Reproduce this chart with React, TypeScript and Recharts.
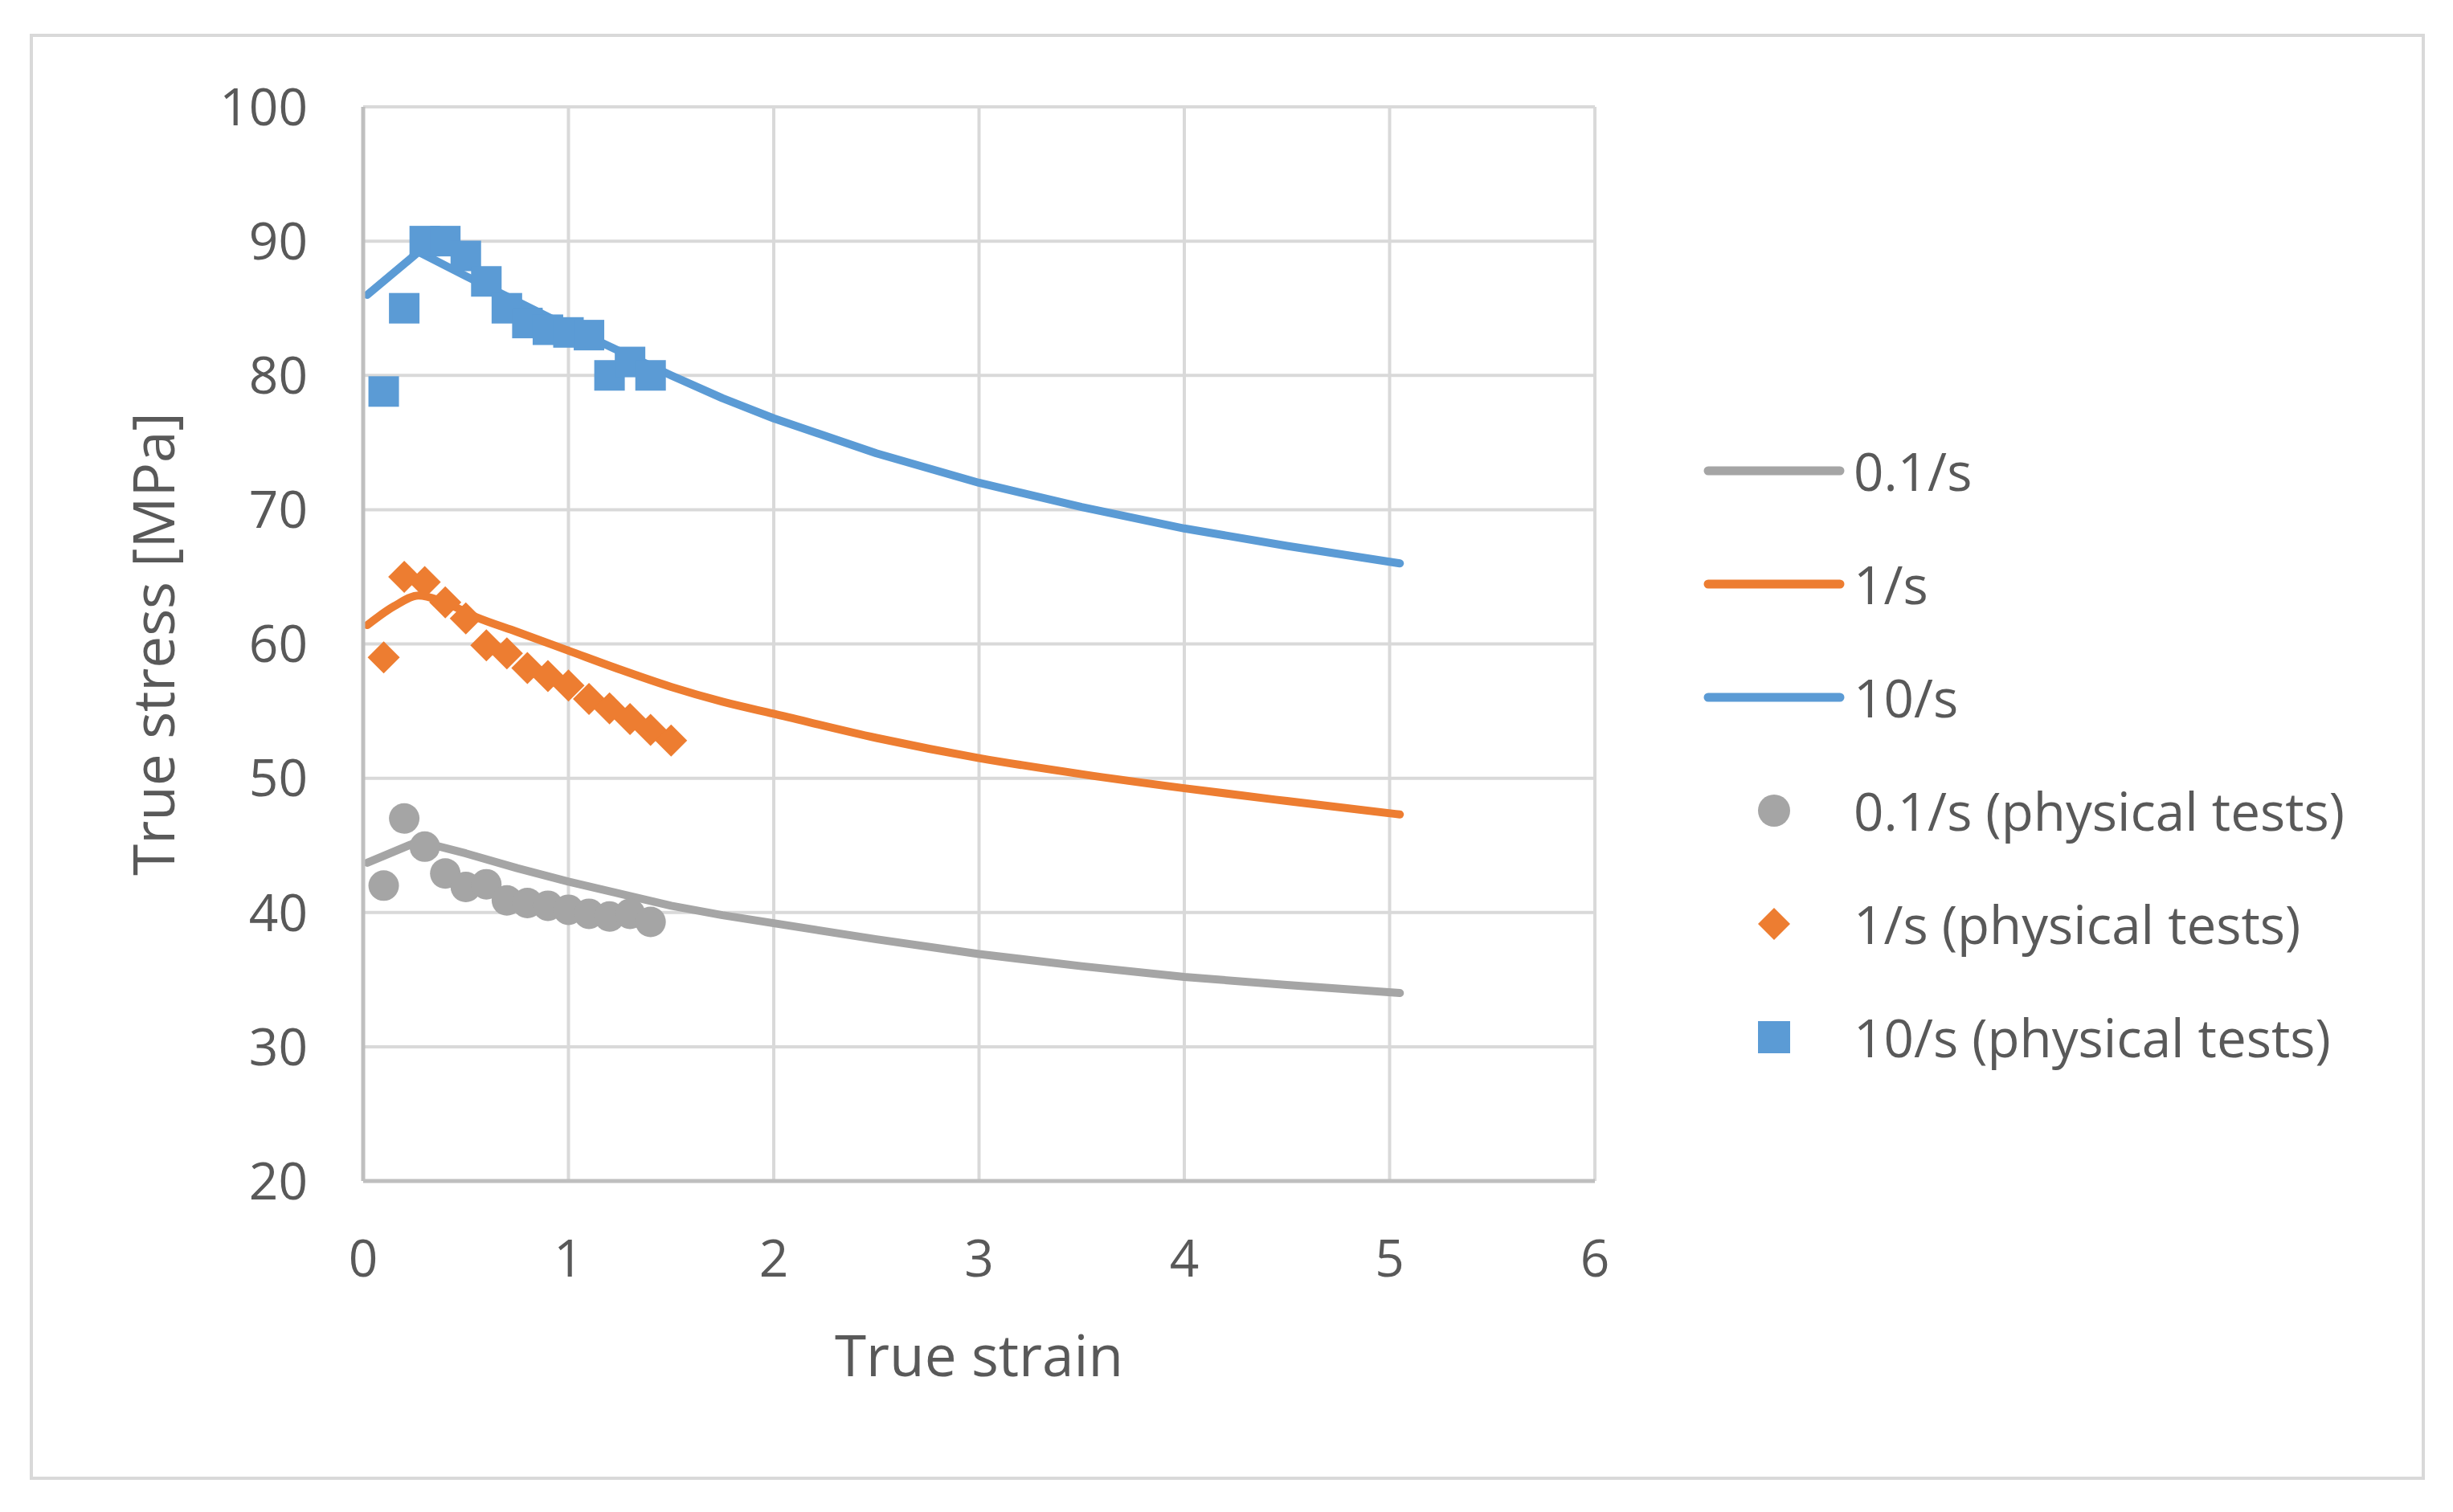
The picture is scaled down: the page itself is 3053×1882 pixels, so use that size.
import React from 'react';
import { ComposedChart, Line, Scatter, XAxis, YAxis, CartesianGrid } from 'recharts';

// ---- data ----
const xTicks = [0, 1, 2, 3, 4, 5, 6];
const yTicks = [20, 30, 40, 50, 60, 70, 80, 90, 100];

const modelStrain01 = [0.02, 0.27, 0.5, 0.75, 1.0, 1.25, 1.5, 1.75, 2.0, 2.5, 3.0, 3.5, 4.0, 4.5, 5.05];
const model01 = [43.7, 45.3, 44.4, 43.3, 42.3, 41.4, 40.5, 39.8, 39.2, 38.0, 36.9, 36.0, 35.2, 34.6, 34.0];

const modelStrain1 = [0.02, 0.15, 0.27, 0.38, 0.55, 0.75, 1.0, 1.25, 1.5, 1.75, 2.0, 2.5, 3.0, 3.5, 4.0, 4.5, 5.05];
const model1 = [61.4, 62.8, 63.6, 63.2, 62.0, 60.9, 59.5, 58.1, 56.8, 55.7, 54.8, 53.0, 51.5, 50.3, 49.25, 48.3, 47.3];

const modelStrain10 = [0.02, 0.27, 0.5, 0.75, 1.0, 1.25, 1.5, 1.75, 2.0, 2.5, 3.0, 3.5, 4.0, 4.5, 5.05];
const model10 = [86.0, 89.2, 87.4, 85.5, 83.6, 81.8, 80.0, 78.3, 76.8, 74.2, 72.0, 70.2, 68.6, 67.3, 66.0];

const testStrain01 = [0.1, 0.2, 0.3, 0.4, 0.5, 0.6, 0.7, 0.8, 0.9, 1.0, 1.1, 1.2, 1.3, 1.4];
const test01 = [42.0, 47.0, 44.9, 42.9, 41.9, 42.1, 40.9, 40.7, 40.5, 40.2, 39.9, 39.7, 39.9, 39.3];

const testStrain1 = [0.1, 0.2, 0.3, 0.4, 0.5, 0.6, 0.7, 0.8, 0.9, 1.0, 1.1, 1.2, 1.3, 1.4, 1.5];
const test1 = [59.0, 65.0, 64.6, 63.1, 61.9, 59.9, 59.3, 58.2, 57.6, 56.9, 55.9, 55.2, 54.4, 53.6, 52.8];

const testStrain10 = [0.1, 0.2, 0.3, 0.4, 0.5, 0.6, 0.7, 0.8, 0.9, 1.0, 1.1, 1.2, 1.3, 1.4];
const test10 = [78.8, 85.0, 90.0, 90.0, 88.9, 87.0, 85.0, 83.9, 83.4, 83.2, 83.0, 80.0, 81.0, 80.0];

const legendLabels = ['0.1/s', '1/s', '10/s', '0.1/s (physical tests)', '1/s (physical tests)', '10/s (physical tests)'];

// ---- styles ----
const GRAY = '#A5A5A5';
const ORANGE = '#ED7D31';
const BLUE = '#5B9BD5';
const TEXT = '#595959';
const FONT = '"Open Sans", Lato, sans-serif';
const FS = 64;
const LEGEND_FS = 65.5;
const TITLE_FS = 71;
const LINE_W = 10;

const zip = (xs: number[], ys: number[]) => xs.map((x, i) => ({ x, y: ys[i] }));

const CircleShape = (p: any) => <circle cx={p.cx} cy={p.cy} r={19} fill={GRAY} />;
const DiamondShape = (p: any) => (
  <polygon
    points={`${p.cx},${p.cy - 20} ${p.cx + 20},${p.cy} ${p.cx},${p.cy + 20} ${p.cx - 20},${p.cy}`}
    fill={ORANGE}
  />
);
const SquareShape = (p: any) => <rect x={p.cx - 19} y={p.cy - 19} width={38} height={38} fill={BLUE} />;

const XTick = (p: any) => (
  <text x={p.x} y={p.y} dy="0.714em" textAnchor="middle" fill={TEXT} fontFamily={FONT} fontSize={FS}>
    {p.payload.value}
  </text>
);
const YTick = (p: any) => (
  <text x={p.x} y={p.y} dy="0.357em" textAnchor="end" fill={TEXT} fontFamily={FONT} fontSize={FS}>
    {p.payload.value}
  </text>
);

const legendColors = [GRAY, ORANGE, BLUE, GRAY, ORANGE, BLUE];

const ChartLegend = () => (
  <div
    style={{
      position: 'absolute',
      left: 2095,
      top: 515.5,
      fontFamily: FONT,
      fontSize: LEGEND_FS,
      color: TEXT,
    }}
  >
    {legendLabels.map((label, i) => (
      <div key={label} style={{ height: 141, display: 'flex', alignItems: 'center' }}>
        <svg width={212} height={60} style={{ flex: 'none' }}>
          {i < 3 && (
            <line x1={31} y1={30} x2={195} y2={30} stroke={legendColors[i]} strokeWidth={11} strokeLinecap="round" />
          )}
          {i === 3 && <circle cx={113} cy={30} r={20} fill={GRAY} />}
          {i === 4 && <polygon points="113,10 133,30 113,50 93,30" fill={ORANGE} />}
          {i === 5 && <rect x={93} y={10} width={40} height={40} fill={BLUE} />}
        </svg>
        <span style={{ whiteSpace: 'nowrap', lineHeight: 1 }}>{label}</span>
      </div>
    ))}
  </div>
);

export default function App() {
  return (
    <div style={{ position: 'absolute', left: 0, top: 0, width: 3053, height: 1882, background: '#fff' }}>
      <div
        style={{
          position: 'absolute',
          left: 37,
          top: 42,
          width: 3018 - 37,
          height: 1842 - 42,
          border: '4px solid #D9D9D9',
          boxSizing: 'border-box',
        }}
      />
      <div style={{ position: 'absolute', left: 0, top: 0 }}>
        <ComposedChart width={3053} height={1882} margin={{ top: 133, right: 1068, bottom: 212, left: 0 }}>
          <CartesianGrid stroke="#D9D9D9" strokeWidth={4} />
          <XAxis
            type="number"
            dataKey="x"
            domain={[0, 6]}
            ticks={xTicks}
            interval={0}
            height={200}
            tickSize={0}
            tickMargin={73}
            tick={<XTick />}
            axisLine={{ stroke: '#BFBFBF', strokeWidth: 5 }}
            tickLine={false}
            label={{
              content: (props: any) => {
                const vb = props.viewBox;
                return (
                  <text
                    x={vb.x + vb.width / 2}
                    y={vb.y + 218}
                    dy="0.357em"
                    textAnchor="middle"
                    fill={TEXT}
                    fontFamily={FONT}
                    fontSize={TITLE_FS}
                  >
                    True strain
                  </text>
                );
              },
            }}
          />
          <YAxis
            type="number"
            domain={[20, 100]}
            ticks={yTicks}
            interval={0}
            width={452}
            tickSize={0}
            tickMargin={69}
            tick={<YTick />}
            axisLine={{ stroke: '#BFBFBF', strokeWidth: 5 }}
            tickLine={false}
            label={{
              content: (props: any) => {
                const vb = props.viewBox;
                const cx = vb.x + 192;
                const cy = vb.y + vb.height / 2;
                return (
                  <text
                    x={cx}
                    y={cy}
                    dy="0.357em"
                    transform={`rotate(-90, ${cx}, ${cy})`}
                    textAnchor="middle"
                    fill={TEXT}
                    fontFamily={FONT}
                    fontSize={TITLE_FS}
                  >
                    True stress [MPa]
                  </text>
                );
              },
            }}
          />
          <Line data={zip(modelStrain01, model01)} dataKey="y" type="linear" stroke={GRAY} strokeWidth={LINE_W} dot={false} activeDot={false} isAnimationActive={false} strokeLinejoin="round" strokeLinecap="round" />
          <Line data={zip(modelStrain1, model1)} dataKey="y" type="monotone" stroke={ORANGE} strokeWidth={LINE_W} dot={false} activeDot={false} isAnimationActive={false} strokeLinejoin="round" strokeLinecap="round" />
          <Line data={zip(modelStrain10, model10)} dataKey="y" type="linear" stroke={BLUE} strokeWidth={LINE_W} dot={false} activeDot={false} isAnimationActive={false} strokeLinejoin="round" strokeLinecap="round" />
          <Scatter data={zip(testStrain01, test01)} dataKey="y" shape={CircleShape} isAnimationActive={false} />
          <Scatter data={zip(testStrain1, test1)} dataKey="y" shape={DiamondShape} isAnimationActive={false} />
          <Scatter data={zip(testStrain10, test10)} dataKey="y" shape={SquareShape} isAnimationActive={false} />
        </ComposedChart>
      </div>
      <ChartLegend />
    </div>
  );
}
